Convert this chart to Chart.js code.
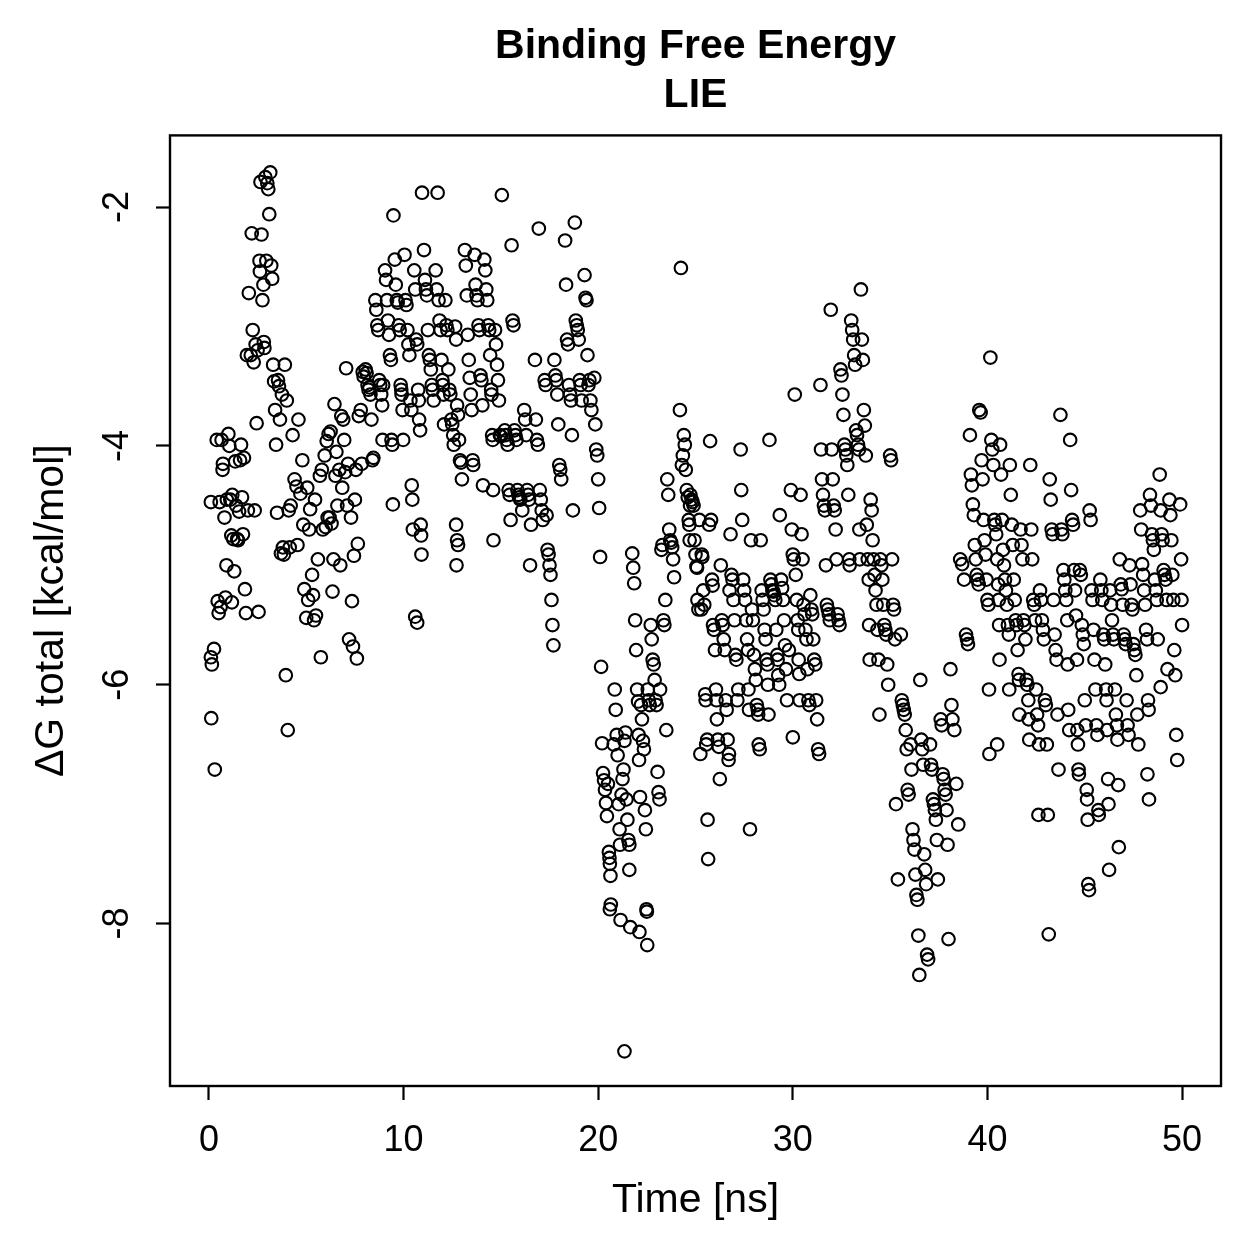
<!DOCTYPE html>
<html>
<head>
<meta charset="utf-8">
<title>Binding Free Energy - LIE</title>
<script src="https://cdn.jsdelivr.net/npm/chart.js@4.4.1/dist/chart.umd.min.js"></script>
<style>
  html, body { margin: 0; padding: 0; background: #fff; }
  canvas { display: block; }
</style>
</head>
<body>
<canvas id="lieChart" width="1259" height="1259"></canvas>
<script>
// [time (ns), dG total (kcal/mol)], split by time range
var seg0to4 = [
  [0.1,-4.47],[0.1,-5.77],[0.15,-5.83],[0.12,-6.28],[0.3,-6.71],[0.26,-5.7],[0.4,-3.95],[0.45,-5.3],
  [0.5,-5.4],[0.55,-4.47],[0.6,-5.35],[0.65,-3.95],[0.7,-4.2],[0.72,-4.15],[0.8,-4.6],[0.85,-5.27],
  [0.9,-5.0],[0.92,-4.45],[1.0,-3.9],[1.05,-4.0],[1.1,-4.45],[1.15,-4.75],[1.18,-5.31],[1.2,-4.41],
  [1.25,-4.78],[1.3,-5.05],[1.35,-4.13],[1.4,-4.5],[1.45,-4.78],[1.5,-4.79],[1.55,-4.55],[1.6,-4.12],
  [1.65,-3.99],[1.7,-4.43],[1.75,-4.74],[1.8,-4.1],[1.85,-5.2],[1.9,-5.4],[1.95,-3.24],[2.0,-4.54],
  [2.05,-2.72],[2.15,-3.24],[2.2,-2.22],[2.25,-3.03],[2.3,-3.3],[2.35,-4.54],[2.4,-3.15],[2.45,-3.81],
  [2.5,-3.2],[2.55,-5.39],[2.6,-2.45],[2.62,-2.54],[2.65,-1.79],[2.7,-2.23],[2.75,-2.78],[2.8,-2.65],
  [2.82,-3.13],[2.85,-3.18],[2.9,-1.75],[2.95,-2.45],[3.0,-1.8],[3.05,-1.85],[3.1,-2.06],[3.15,-1.71],
  [3.2,-2.49],[3.25,-2.6],[3.3,-3.32],[3.35,-3.46],[3.4,-3.7],[3.45,-3.99],[3.5,-4.56],[3.55,-3.45],
  [3.6,-3.5],[3.65,-3.78],[3.7,-4.9],[3.75,-3.57],[3.8,-4.85],[3.85,-4.91],[3.9,-3.32],[3.95,-5.92],
  [4.0,-3.62],[4.05,-6.38],[4.1,-4.54],[4.15,-4.85],[4.2,-4.5]
];
var seg4to8 = [
  [4.3,-3.91],[4.4,-4.28],[4.5,-4.34],[4.55,-4.83],[4.6,-3.78],[4.7,-4.4],[4.8,-4.12],[4.85,-4.66],
  [4.9,-5.2],[5.0,-5.44],[5.05,-4.35],[5.1,-5.29],[5.15,-4.7],[5.2,-4.53],[5.3,-5.08],[5.35,-5.25],
  [5.4,-5.46],[5.45,-4.45],[5.5,-5.42],[5.6,-4.95],[5.7,-4.25],[5.75,-5.77],[5.8,-4.2],[5.85,-4.7],
  [5.95,-4.08],[6.0,-4.68],[6.05,-3.96],[6.1,-4.6],[6.15,-3.9],[6.2,-4.6],[6.25,-3.88],[6.3,-4.65],
  [6.35,-5.22],[6.4,-4.95],[6.45,-3.65],[6.5,-4.25],[6.55,-4.05],[6.6,-4.5],[6.7,-4.2],[6.75,-5.0],
  [6.8,-3.75],[6.85,-4.35],[6.9,-3.78],[6.95,-3.95],[7.0,-4.22],[7.05,-3.35],[7.1,-4.5],[7.15,-4.15],
  [7.2,-5.62],[7.3,-4.6],[7.35,-5.3],[7.4,-5.68],[7.45,-4.92],[7.5,-4.45],[7.55,-4.2],[7.6,-5.78],
  [7.65,-4.82],[7.7,-3.75],[7.8,-3.7],[7.85,-4.15],[7.9,-3.38],[7.95,-3.42]
];
var seg8to13 = [
  [8.05,-3.36],[8.1,-3.39],[8.15,-3.49],[8.2,-3.53],[8.25,-3.51],[8.3,-3.57],[8.35,-3.78],[8.4,-4.12],[8.45,-4.1],
  [8.55,-2.78],[8.6,-2.86],[8.65,-2.99],[8.7,-3.03],[8.75,-3.45],[8.8,-3.49],[8.85,-3.57],[8.9,-3.66],[8.92,-3.95],[8.95,-3.49],
  [9.05,-2.53],[9.1,-2.61],[9.15,-2.78],[9.2,-2.95],[9.25,-3.07],[9.3,-3.24],[9.35,-3.28],[9.38,-3.95],[9.42,-3.99],[9.45,-4.49],[9.48,-2.07],
  [9.55,-2.44],[9.6,-2.65],[9.65,-2.78],[9.7,-2.8],[9.75,-2.99],[9.8,-3.03],[9.85,-3.49],[9.88,-3.53],[9.9,-3.57],[9.95,-3.7],[9.98,-3.95],
  [10.05,-2.4],[10.1,-2.78],[10.15,-2.82],[10.2,-3.03],[10.25,-3.15],[10.3,-3.24],[10.35,-3.62],[10.4,-3.7],[10.42,-4.33],[10.45,-4.45],[10.48,-4.7],
  [10.55,-2.53],[10.6,-2.69],[10.65,-3.11],[10.7,-3.15],[10.75,-3.53],[10.78,-3.62],[10.8,-3.78],[10.85,-3.87],[10.88,-4.66],[10.9,-4.75],
  [10.92,-4.91],[10.6,-5.43],[10.7,-5.48],[10.95,-1.88],
  [11.05,-2.36],[11.1,-2.61],[11.15,-2.69],[11.2,-2.74],[11.25,-3.03],[11.3,-3.24],[11.35,-3.28],[11.4,-3.36],[11.45,-3.49],[11.5,-3.53],[11.55,-3.62],
  [11.75,-1.88],[11.65,-2.53],[11.7,-2.69],[11.8,-2.78],[11.85,-2.95],[11.9,-3.03],[11.95,-3.28],[12.0,-3.45],[12.02,-3.49],[12.05,-3.57],[12.08,-3.82],
  [12.15,-2.78],[12.2,-2.99],[12.25,-3.03],[12.3,-3.36],[12.35,-3.53],[12.4,-3.57],[12.45,-3.78],[12.5,-3.82],[12.55,-3.91],[12.58,-3.99],
  [12.65,-3.0],[12.7,-3.11],[12.75,-3.66],[12.8,-3.74],[12.85,-3.95],[12.9,-4.12],[12.95,-4.14],[13.0,-4.28],[12.7,-4.66],[12.75,-4.79],
  [12.8,-4.83],[12.72,-5.0]
];
var seg13to20 = [
  [13.15,-2.36],[13.2,-2.49],[13.25,-2.74],[13.3,-3.07],[13.35,-3.28],[13.4,-3.43],[13.45,-3.57],[13.5,-3.7],[13.55,-4.12],[13.58,-4.16],
  [13.65,-2.4],[13.7,-2.65],[13.75,-2.74],[13.8,-2.78],[13.85,-2.99],[13.9,-3.03],[13.95,-3.41],[14.0,-3.45],[14.05,-3.66],[14.08,-4.33],
  [14.15,-2.44],[14.2,-2.53],[14.25,-2.69],[14.3,-2.78],[14.35,-2.99],[14.4,-3.03],[14.45,-3.24],[14.5,-3.53],[14.52,-3.57],[14.55,-3.91],
  [14.58,-3.95],[14.6,-4.37],[14.62,-4.79],
  [15.05,-1.9],[14.7,-3.03],[14.75,-3.15],[14.8,-3.32],[14.85,-3.45],[14.9,-3.62],[14.95,-3.91],[15.0,-3.92],
  [15.55,-2.32],[15.6,-2.95],[15.65,-2.99],[15.2,-3.87],[15.25,-3.91],[15.3,-3.95],[15.35,-3.99],[15.4,-4.37],[15.45,-4.41],[15.5,-4.62],
  [15.7,-3.87],[15.75,-3.91],[15.8,-3.95],[15.85,-4.37],[15.9,-4.41],[15.95,-4.43],[16.0,-4.45],[16.1,-4.54],
  [16.2,-3.7],[16.25,-3.78],[16.3,-3.91],[16.35,-4.37],[16.4,-4.41],[16.45,-4.45],[16.5,-5.0],[16.55,-4.66],
  [16.95,-2.18],[16.75,-3.28],[16.8,-3.78],[16.85,-3.95],[16.9,-3.99],[17.0,-4.37],[17.05,-4.45],[17.1,-4.54],[17.15,-4.62],
  [17.25,-3.45],[17.3,-3.49],[17.35,-4.58],[17.4,-4.87],[17.45,-4.91],[17.5,-5.0],[17.55,-5.08],[17.6,-5.29],[17.65,-5.5],[17.7,-5.67],
  [17.75,-3.28],[17.8,-3.41],[17.85,-3.45],[17.9,-3.57],[17.95,-3.82],[18.0,-4.16],[18.05,-4.2],[18.1,-4.28],
  [18.3,-2.28],[18.35,-2.65],[18.4,-3.11],[18.45,-3.15],[18.5,-3.49],[18.55,-3.57],[18.6,-3.62],[18.65,-3.91],[18.7,-4.54],
  [18.8,-2.13],[18.85,-2.95],[18.9,-2.99],[18.95,-3.03],[19.0,-3.11],[19.05,-3.45],[19.1,-3.49],[19.15,-3.62],
  [19.3,-2.57],[19.35,-2.76],[19.4,-2.78],[19.45,-3.24],[19.5,-3.49],[19.55,-3.45],[19.6,-3.62],[19.65,-3.7],
  [19.8,-3.43],[19.85,-3.82],[19.9,-4.03],[19.95,-4.08],[20.0,-4.28],[20.05,-4.52],[20.1,-4.93]
];
var seg20to25 = [
  [20.15,-5.85],[20.2,-6.49],[20.25,-6.74],[20.3,-6.8],[20.35,-6.88],[20.4,-6.99],[20.45,-7.1],[20.5,-6.83],[20.55,-7.4],
  [20.58,-7.45],[20.6,-7.5],[20.63,-7.6],[20.65,-7.84],[20.6,-7.88],
  [20.8,-6.5],[20.85,-6.04],[20.9,-6.21],[20.95,-6.42],[21.0,-6.59],[21.05,-7.0],[21.1,-7.21],[21.12,-7.34],[21.15,-7.97],[21.35,-9.07],
  [21.2,-6.92],[21.25,-6.79],[21.3,-6.71],[21.35,-6.47],[21.4,-6.4],[21.45,-6.96],[21.5,-7.13],[21.55,-7.3],[21.6,-7.34],[21.6,-7.55],[21.65,-8.03],
  [21.75,-4.9],[21.8,-5.02],[21.85,-5.15],[21.9,-5.46],[21.95,-5.71],[22.0,-6.04],[22.05,-6.14],[22.08,-6.42],[22.1,-6.63],[22.15,-6.94],[22.12,-8.07],
  [22.2,-6.17],[22.25,-6.29],[22.3,-6.47],[22.35,-6.54],[22.4,-7.05],[22.45,-7.21],[22.48,-7.88],[22.5,-7.9],[22.52,-8.18],[22.55,-6.04],[22.6,-6.13],[22.65,-6.17],
  [22.7,-5.5],[22.75,-5.62],[22.8,-5.79],[22.85,-5.83],[22.9,-5.96],[22.95,-6.13],[23.0,-6.17],[23.05,-6.73],[23.1,-6.9],[23.15,-6.96],[23.18,-6.04],
  [23.25,-4.87],[23.3,-4.83],[23.35,-5.46],[23.4,-5.5],[23.45,-5.29],[23.5,-6.38],
  [23.55,-4.28],[23.6,-4.41],[23.65,-4.7],[23.7,-4.79],[23.75,-4.81],[23.8,-4.85],[23.85,-4.95],[23.9,-5.1],[24.2,-3.7],[24.25,-2.51],
  [24.3,-4.16],[24.35,-4.08],[24.4,-3.91],[24.45,-3.99],[24.5,-4.2],[24.55,-4.37],[24.6,-4.43],[24.65,-4.62],[24.68,-4.66],[24.7,-4.79],[24.72,-4.5],[24.74,-4.41],
  [24.8,-4.45],[24.85,-4.47],[24.9,-4.5],[24.95,-4.79],[25.0,-4.91],[25.05,-5.01],[25.08,-5.02],[25.1,-5.29],[25.15,-5.37],[25.2,-4.62],[25.25,-6.58]
];
var seg25to30 = [
  [25.3,-5.37],[25.32,-4.91],[25.35,-4.93],[25.4,-5.21],[25.45,-5.33],[25.5,-6.08],[25.52,-6.13],[25.55,-6.5],[25.6,-6.46],[25.62,-7.13],[25.65,-7.46],[25.7,-4.66],[25.75,-3.96],
  [25.8,-4.62],[25.85,-5.12],[25.88,-5.17],[25.9,-5.5],[25.95,-5.54],[26.0,-5.71],[26.05,-6.04],[26.08,-6.13],[26.1,-6.29],[26.15,-6.46],[26.2,-6.52],[26.25,-6.79],
  [26.3,-5.0],[26.35,-5.46],[26.4,-5.5],[26.45,-5.62],[26.5,-5.71],[26.55,-6.13],[26.6,-6.21],[26.65,-6.46],[26.7,-6.63],[26.72,-6.58],[26.75,-5.21],
  [26.8,-4.74],[26.85,-5.08],[26.9,-5.12],[26.95,-5.29],[27.0,-5.46],[27.05,-5.75],[27.1,-5.79],[27.15,-6.13],[27.2,-6.04],
  [27.32,-4.03],[27.35,-4.37],[27.4,-4.62],[27.45,-5.12],[27.5,-5.21],[27.55,-5.29],[27.6,-5.46],[27.65,-5.62],[27.7,-5.71],[27.72,-6.04],[27.75,-6.21],[27.8,-7.21],
  [27.85,-4.79],[27.9,-5.37],[27.95,-5.46],[28.0,-5.75],[28.05,-5.87],[28.1,-5.96],[28.15,-6.17],[28.2,-6.21],[28.22,-6.25],[28.25,-6.5],[28.3,-6.54],
  [28.35,-4.79],[28.4,-5.21],[28.45,-5.29],[28.5,-5.37],[28.55,-5.54],[28.6,-5.62],[28.65,-5.79],[28.7,-5.83],[28.72,-6.0],[28.75,-6.25],[28.8,-3.95],
  [28.85,-5.12],[28.9,-5.16],[28.95,-5.21],[29.0,-5.22],[29.05,-5.25],[29.1,-5.29],[29.15,-5.54],[29.2,-5.75],[29.22,-5.79],[29.25,-5.92],[29.3,-6.0],[29.33,-4.58],
  [29.4,-5.12],[29.45,-5.19],[29.5,-5.29],[29.55,-5.46],[29.6,-5.67],[29.65,-5.87],[29.7,-6.13],[29.8,-5.71]
];
var seg30to35 = [
  [30.1,-3.57],[29.9,-4.37],[29.95,-4.7],[30.0,-4.91],[30.05,-4.95],[30.15,-5.08],[30.2,-5.29],[30.25,-5.46],[30.28,-5.54],[30.3,-5.79],[30.33,-5.91],[30.35,-6.13],[30.0,-6.44],
  [30.4,-4.41],[30.45,-4.74],[30.5,-4.95],[30.55,-5.33],[30.6,-5.41],[30.65,-5.54],[30.7,-5.62],[30.75,-5.87],[30.8,-6.13],[30.85,-6.17],
  [30.9,-5.25],[30.95,-5.37],[31.0,-5.41],[31.05,-5.62],[31.1,-5.79],[31.15,-5.83],[31.2,-6.13],[31.25,-6.29],[31.3,-6.54],[31.35,-6.58],
  [31.42,-3.49],[31.45,-4.03],[31.5,-4.28],[31.55,-4.41],[31.6,-4.5],[31.65,-4.54],[31.7,-5.0],[31.75,-5.33],[31.8,-5.37],[31.85,-5.41],[31.9,-5.46],
  [31.95,-2.86],[32.0,-4.03],[32.05,-4.28],[32.1,-4.5],[32.15,-4.54],[32.2,-4.7],[32.25,-4.95],[32.3,-5.41],[32.35,-5.46],[32.4,-5.5],
  [32.45,-3.36],[32.5,-3.41],[32.55,-3.57],[32.6,-3.74],[32.65,-3.99],[32.7,-4.03],[32.75,-4.08],[32.8,-4.16],[32.85,-4.41],[32.9,-4.95],[32.92,-5.0],
  [33.0,-2.95],[33.05,-3.03],[33.1,-3.11],[33.15,-3.24],[33.2,-3.32],[33.25,-3.87],[33.3,-3.91],[33.35,-3.99],[33.4,-4.03],[33.42,-4.7],[33.44,-4.95],
  [33.5,-2.69],[33.55,-3.11],[33.6,-3.28],[33.65,-3.7],[33.7,-3.83],[33.75,-4.08],[33.8,-4.66],[33.85,-4.95],[33.9,-5.12],[33.92,-5.5],[33.95,-5.79],
  [34.0,-4.45],[34.05,-4.54],[34.1,-4.79],[34.15,-4.95],[34.2,-5.08],[34.25,-5.21],[34.3,-5.33],[34.35,-5.54],[34.4,-5.79],[34.45,-6.25],
  [34.5,-4.95],[34.55,-5.0],[34.6,-5.12],[34.65,-5.33],[34.7,-5.5],[34.75,-5.54],[34.8,-5.58],[34.85,-5.83],[34.9,-6.0]
];
var seg35to40 = [
  [35.0,-4.08],[35.05,-4.12],[35.1,-4.95],[35.15,-5.33],[35.2,-5.37],[35.25,-5.62],[35.3,-7.0],[35.4,-7.63],
  [35.55,-5.58],[35.6,-6.13],[35.65,-6.17],[35.7,-6.21],[35.75,-6.25],[35.8,-6.38],[35.85,-6.54],[35.9,-6.88],[35.95,-6.92],
  [36.05,-6.5],[36.1,-6.71],[36.15,-7.21],[36.2,-7.3],[36.25,-7.38],[36.3,-7.59],[36.35,-7.76],[36.4,-7.8],[36.45,-8.1],[36.5,-8.43],
  [36.55,-5.96],[36.6,-6.46],[36.65,-6.54],[36.7,-6.67],[36.75,-7.42],[36.8,-7.55],[36.85,-7.67],[36.9,-8.26],[36.95,-8.3],
  [37.05,-6.5],[37.1,-6.67],[37.15,-6.71],[37.2,-6.96],[37.25,-7.0],[37.3,-7.05],[37.35,-7.13],[37.4,-7.3],[37.45,-7.63],
  [37.6,-6.29],[37.65,-6.34],[37.7,-6.75],[37.75,-6.79],[37.8,-6.88],[37.85,-6.92],[37.9,-7.05],[37.95,-7.34],[38.0,-8.13],
  [38.1,-5.87],[38.15,-6.17],[38.2,-6.29],[38.3,-6.38],[38.4,-6.83],[38.5,-7.17],
  [38.6,-4.95],[38.7,-4.99],[38.8,-5.12],[38.9,-5.58],[38.95,-5.62],[39.0,-5.66],
  [39.1,-3.91],[39.15,-4.24],[39.2,-4.33],[39.25,-4.49],[39.3,-4.58],[39.35,-4.83],[39.4,-4.95],[39.45,-5.08],[39.5,-5.12],[39.55,-5.16],[39.58,-3.7],
  [39.65,-3.72],[39.7,-4.12],[39.75,-4.28],[39.8,-4.62],[39.85,-4.79],[39.9,-4.91],[39.95,-5.12],[40.0,-5.29],[40.05,-5.33],[40.08,-6.04],[40.1,-6.58]
];
var seg40to45 = [
  [40.15,-3.26],[40.2,-3.95],[40.25,-4.03],[40.3,-4.16],[40.35,-4.62],[40.4,-4.66],[40.45,-4.74],[40.5,-4.95],[40.55,-5.16],[40.58,-5.29],[40.6,-5.5],[40.62,-5.79],[40.5,-6.5],
  [40.65,-3.99],[40.7,-4.24],[40.75,-4.62],[40.8,-4.87],[40.85,-5.0],[40.9,-5.12],[40.95,-5.21],[41.0,-5.33],[41.05,-5.5],[41.1,-5.58],[41.12,-6.04],
  [41.15,-4.16],[41.2,-4.41],[41.25,-4.66],[41.3,-4.83],[41.35,-5.12],[41.4,-5.29],[41.45,-5.46],[41.5,-5.5],[41.55,-5.71],[41.6,-5.91],[41.62,-5.96],[41.64,-6.25],
  [41.7,-4.7],[41.75,-4.83],[41.8,-4.95],[41.85,-5.46],[41.9,-5.5],[41.95,-5.62],[42.0,-5.96],[42.05,-6.0],[42.1,-6.13],[42.12,-6.29],[42.15,-6.46],
  [42.2,-4.16],[42.25,-4.7],[42.3,-4.95],[42.35,-5.29],[42.4,-5.33],[42.45,-5.46],[42.5,-6.04],[42.55,-6.25],[42.6,-6.34],[42.62,-7.09],[42.65,-6.5],
  [42.7,-5.21],[42.75,-5.29],[42.8,-5.46],[42.85,-5.54],[42.9,-5.62],[42.95,-6.13],[43.0,-6.17],[43.05,-6.5],[43.1,-7.09],[43.15,-8.09],
  [43.2,-4.28],[43.25,-4.45],[43.3,-4.7],[43.35,-4.74],[43.4,-5.29],[43.45,-5.58],[43.5,-5.71],[43.55,-5.79],[43.6,-6.25],[43.65,-6.71],
  [43.75,-3.74],[43.8,-4.7],[43.85,-4.74],[43.9,-5.04],[43.95,-5.12],[44.0,-5.21],[44.05,-5.29],[44.1,-5.46],[44.12,-5.83],[44.15,-6.21],[44.2,-6.38],
  [44.25,-3.95],[44.3,-4.37],[44.35,-4.62],[44.4,-4.66],[44.45,-5.04],[44.5,-5.21],[44.55,-5.42],[44.6,-5.79],[44.62,-6.38],[44.65,-6.5],[44.68,-6.71],[44.7,-6.75],
  [44.75,-5.04],[44.8,-5.08],[44.85,-5.5],[44.9,-5.58],[44.95,-5.66],[45.0,-6.13],[45.05,-6.34],[45.1,-6.88],[45.12,-6.96],[45.15,-7.13],[45.18,-7.67],[45.22,-7.72]
];
var seg45to50 = [
  [45.25,-4.54],[45.3,-4.62],[45.35,-5.21],[45.4,-5.29],[45.45,-5.54],[45.5,-5.79],[45.55,-6.04],[45.6,-6.34],[45.65,-6.42],[45.7,-7.05],[45.72,-7.09],
  [45.8,-5.12],[45.85,-5.21],[45.9,-5.29],[45.95,-5.58],[46.0,-5.62],[46.05,-5.83],[46.1,-6.04],[46.12,-6.13],[46.15,-6.38],[46.2,-6.79],[46.22,-7.0],[46.25,-7.55],
  [46.3,-5.21],[46.35,-5.33],[46.4,-5.46],[46.45,-5.58],[46.5,-5.62],[46.55,-6.04],[46.6,-6.25],[46.65,-6.34],[46.68,-6.46],[46.72,-6.84],[46.75,-7.36],
  [46.8,-4.95],[46.85,-5.16],[46.9,-5.2],[46.95,-5.33],[47.0,-5.58],[47.05,-5.62],[47.1,-5.66],[47.15,-6.13],[47.2,-6.34],[47.25,-6.42],
  [47.3,-5.0],[47.35,-5.16],[47.4,-5.33],[47.45,-5.37],[47.5,-5.66],[47.55,-5.71],[47.6,-5.75],[47.65,-5.92],[47.7,-6.25],[47.75,-6.5],
  [47.85,-4.54],[47.9,-4.7],[47.95,-4.99],[48.0,-5.08],[48.05,-5.21],[48.1,-5.33],[48.15,-5.54],[48.2,-5.62],[48.25,-6.13],[48.28,-6.21],[48.3,-6.96],[48.22,-6.75],
  [48.35,-4.41],[48.4,-4.5],[48.45,-4.74],[48.5,-4.79],[48.55,-4.87],[48.6,-5.12],[48.65,-5.21],[48.7,-5.29],[48.75,-5.62],
  [48.85,-4.24],[48.9,-4.54],[48.95,-4.74],[49.0,-4.79],[49.05,-5.04],[49.1,-5.08],[49.15,-5.12],[49.2,-5.29],[49.25,-5.87],[48.9,-6.02],
  [49.35,-4.45],[49.4,-4.58],[49.45,-4.79],[49.5,-5.08],[49.55,-5.29],[49.6,-5.71],[49.65,-5.92],[49.7,-6.42],[49.75,-6.63],
  [49.9,-4.49],[49.95,-4.95],[49.97,-5.29],[50.0,-5.5]
];

var xTicks = [0, 10, 20, 30, 40, 50];
var yTicks = [-8, -6, -4, -2];
var titleLines = ['Binding Free Energy', 'LIE'];
var xLabel = 'Time [ns]';
var yLabel = '\u0394G total [kcal/mol]';

var allPoints = seg0to4.concat(seg4to8, seg8to13, seg13to20, seg20to25,
    seg25to30, seg30to35, seg35to40, seg40to45, seg45to50)
    .map(function (p) { return { x: p[0], y: p[1] }; });

Chart.defaults.font.family = "'Liberation Sans', Arial, sans-serif";
Chart.defaults.color = '#000';

// R-style closed box around the plot region
var boxPlugin = {
    id: 'plotBox',
    afterDatasetsDraw: function (chart) {
        var a = chart.chartArea;
        var ctx = chart.ctx;
        ctx.save();
        ctx.strokeStyle = '#000';
        ctx.lineWidth = 2.4;
        ctx.strokeRect(a.left, a.top, a.right - a.left, a.bottom - a.top);
        ctx.restore();
    }
};

var ctx = document.getElementById('lieChart');
new Chart(ctx, {
    type: 'scatter',
    data: {
        datasets: [{
            data: allPoints,
            pointStyle: 'circle',
            pointRadius: 6.3,
            pointHoverRadius: 6.3,
            borderWidth: 2.1,
            borderColor: '#000',
            backgroundColor: 'rgba(0,0,0,0)'
        }]
    },
    options: {
        responsive: false,
        animation: false,
        events: [],
        layout: { padding: { left: 0, top: 0, right: 38, bottom: 0 } },
        plugins: {
            legend: { display: false },
            tooltip: { enabled: false },
            title: {
                display: true,
                text: titleLines,
                fullSize: false,
                color: '#000',
                font: { size: 41, weight: 'bold', lineHeight: 1.2 },
                padding: { top: 22, bottom: 15 }
            }
        },
        scales: {
            x: {
                type: 'linear',
                min: -2,
                max: 52,
                afterFit: function (s) { s.height = 173; },
                afterBuildTicks: function (s) {
                    s.ticks = xTicks.map(function (v) { return { value: v }; });
                },
                border: { display: false },
                grid: {
                    drawOnChartArea: false,
                    drawTicks: true,
                    tickLength: 14,
                    tickWidth: 2.2,
                    tickColor: '#000'
                },
                ticks: {
                    font: { size: 36 },
                    color: '#000',
                    padding: 19,
                    maxRotation: 0,
                    minRotation: 0
                },
                title: {
                    display: true,
                    text: xLabel,
                    color: '#000',
                    font: { size: 41, lineHeight: 1.2 },
                    padding: { top: 0, bottom: 34 }
                }
            },
            y: {
                type: 'linear',
                min: -9.36,
                max: -1.40,
                afterFit: function (s) { s.width = 170; },
                afterBuildTicks: function (s) {
                    s.ticks = yTicks.map(function (v) { return { value: v }; });
                },
                border: { display: false },
                grid: {
                    drawOnChartArea: false,
                    drawTicks: true,
                    tickLength: 14,
                    tickWidth: 2.2,
                    tickColor: '#000'
                },
                ticks: {
                    font: { size: 36 },
                    color: '#000',
                    padding: 22,
                    crossAlign: 'center',
                    minRotation: 90,
                    maxRotation: 90
                },
                title: {
                    display: true,
                    text: yLabel,
                    color: '#000',
                    font: { size: 41, lineHeight: 1.2 },
                    padding: { top: 27, bottom: 0 }
                }
            }
        }
    },
    plugins: [boxPlugin]
});
</script>
</body>
</html>
